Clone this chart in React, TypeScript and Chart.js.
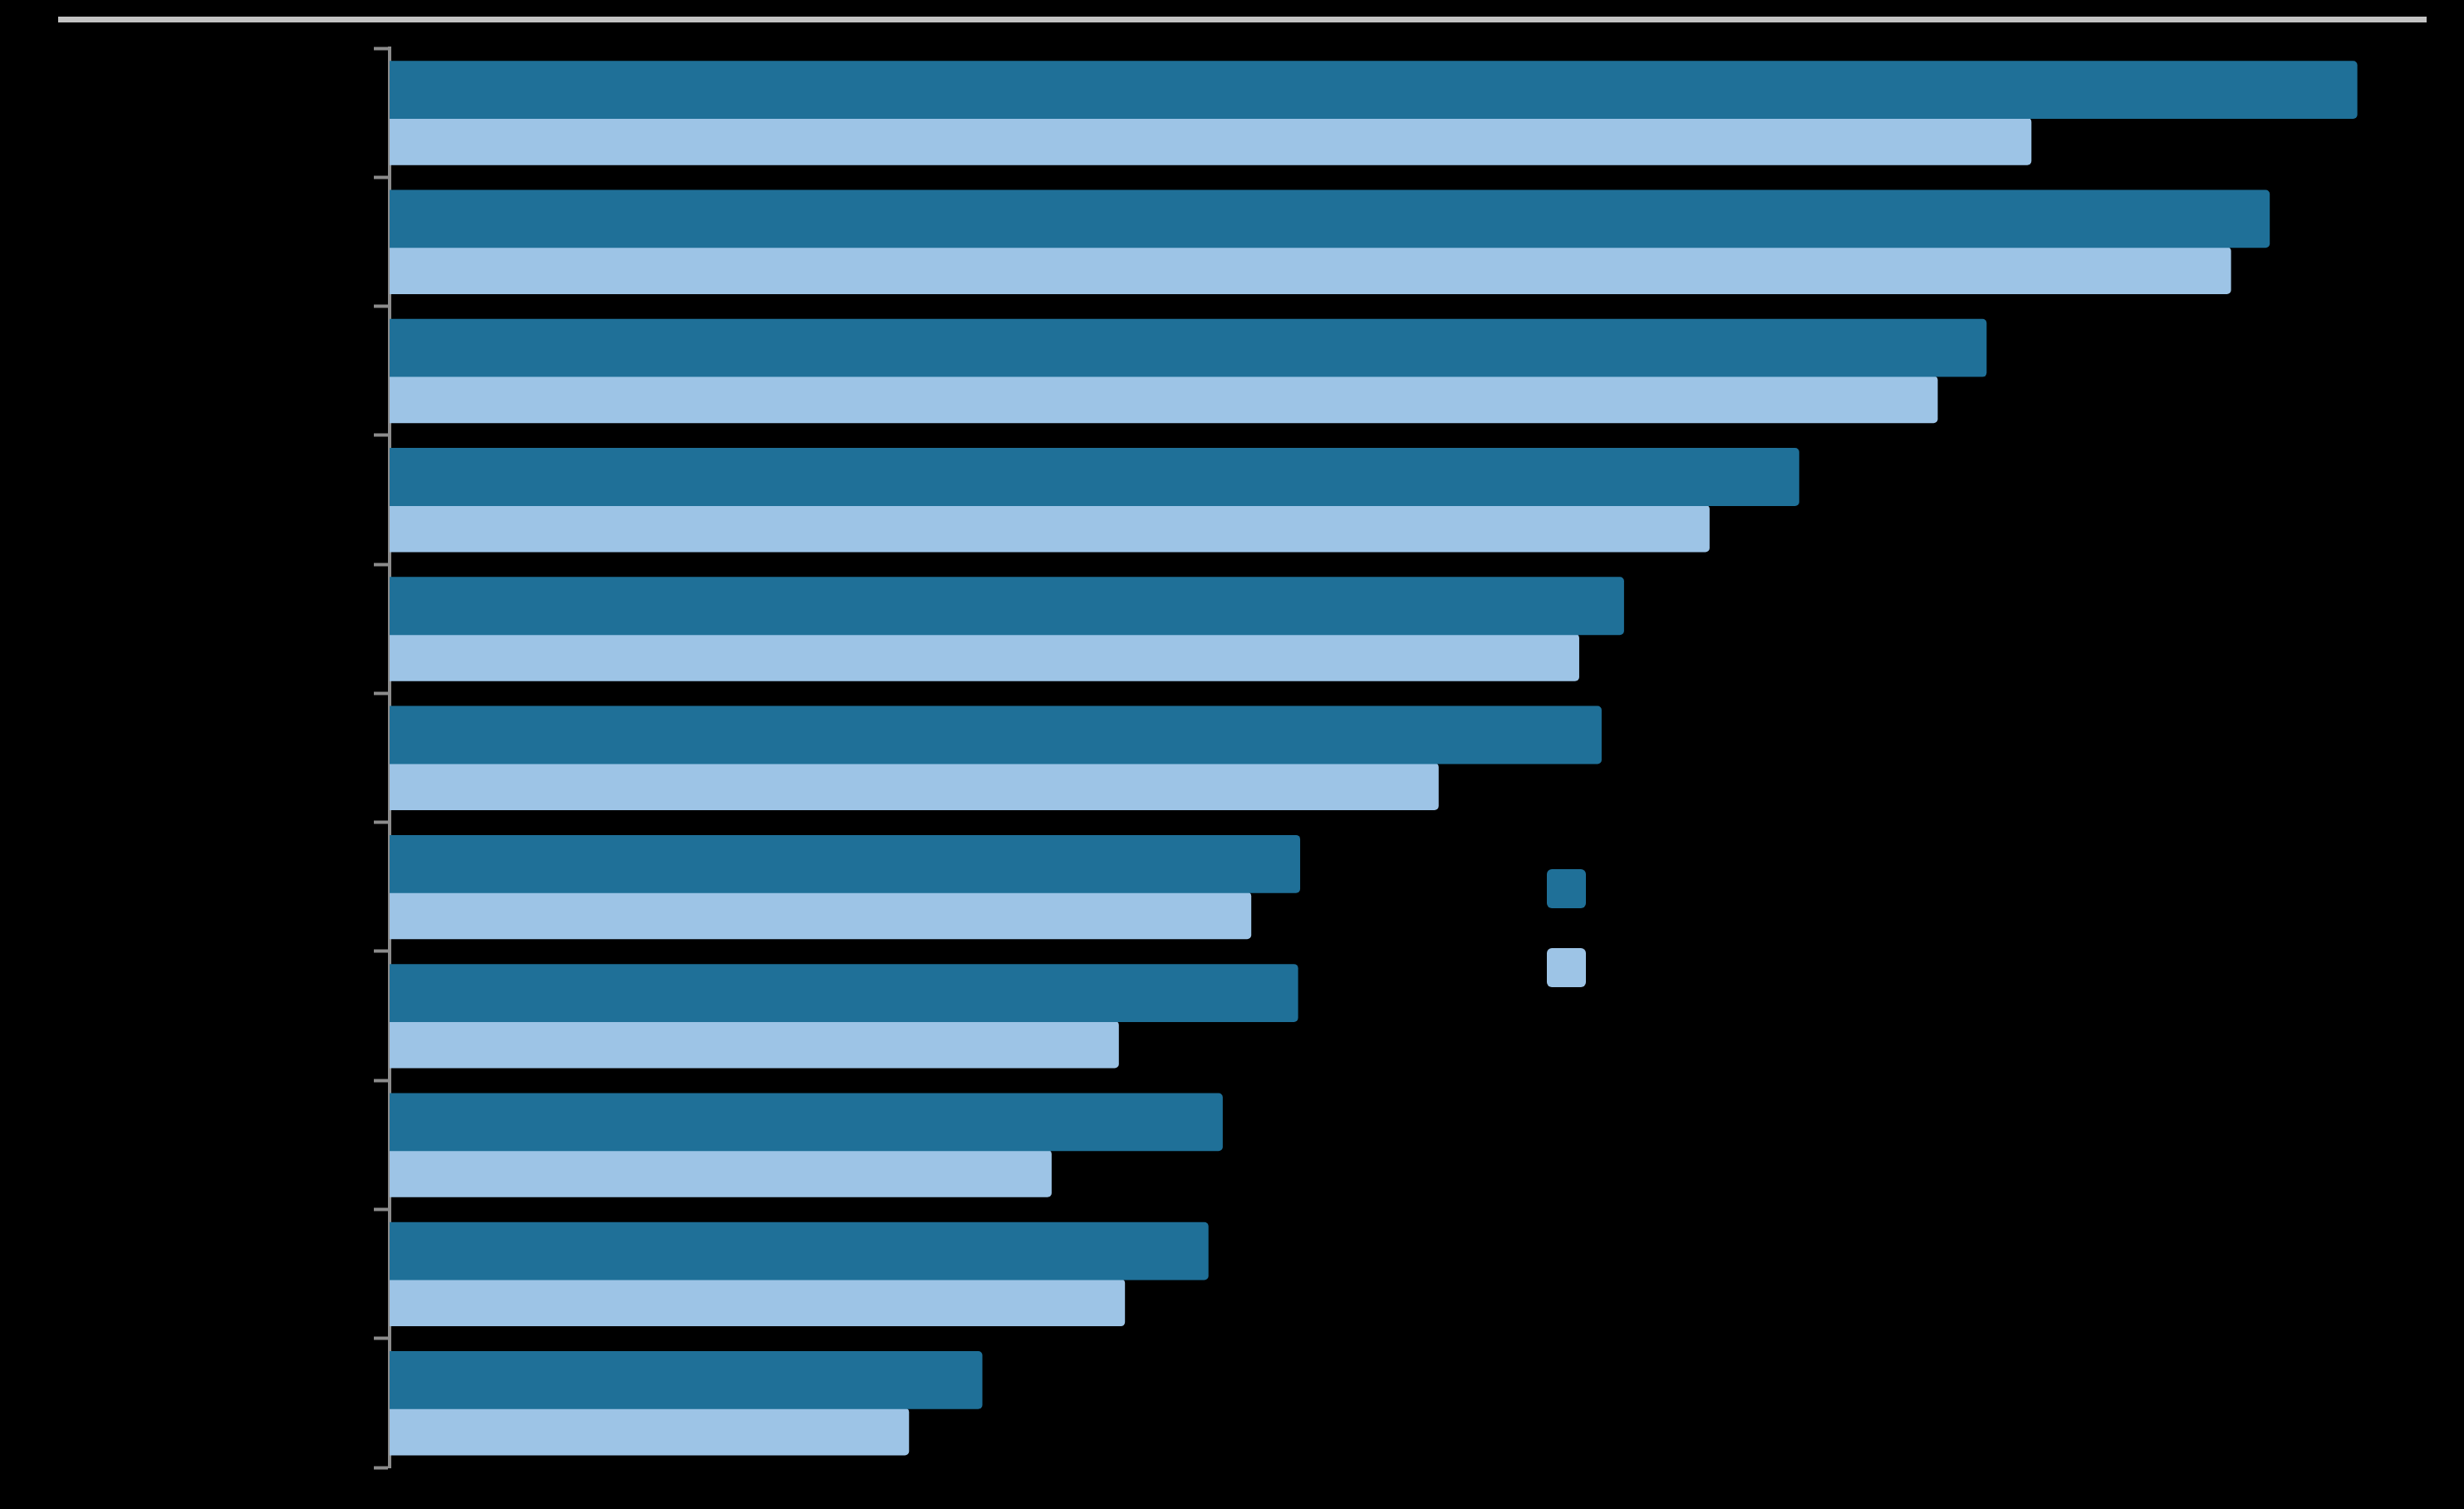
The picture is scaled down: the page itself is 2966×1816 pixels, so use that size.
import React, { useEffect, useRef } from "react";
import { Chart, registerables } from "chart.js";

Chart.register(...registerables);

const categories = [
  "Category 1", "Category 2", "Category 3", "Category 4", "Category 5", "Category 6",
  "Category 7", "Category 8", "Category 9", "Category 10", "Category 11",
];
const seriesNames = ["Series A", "Series B"];
const seriesA = [96.6, 92.3, 78.4, 69.2, 60.6, 59.5, 44.7, 44.6, 40.9, 40.2, 29.1];
const seriesB = [80.6, 90.4, 76.0, 64.8, 58.4, 51.5, 42.3, 35.8, 32.5, 36.1, 25.5];
const colors = ["#1f7098", "#9dc4e6"];

export default function App() {
  const ref = useRef<HTMLCanvasElement | null>(null);
  useEffect(() => {
    document.body.style.margin = "0";
    document.body.style.background = "#000";
    const chart = new Chart(ref.current as HTMLCanvasElement, {
      type: "bar",
      data: {
        labels: categories,
        datasets: [
          {
            label: seriesNames[0],
            data: seriesA,
            backgroundColor: colors[0],
            borderRadius: 5,
            categoryPercentage: 0.708,
            barPercentage: 1.27,
          },
          {
            label: seriesNames[1],
            data: seriesB,
            backgroundColor: colors[1],
            borderRadius: 5,
            categoryPercentage: 0.889,
            barPercentage: 0.826,
          },
        ],
      },
      options: {
        indexAxis: "y",
        animation: false,
        responsive: false,
        maintainAspectRatio: false,
        layout: { padding: { left: 450, top: 58, bottom: 50, right: 45 } },
        plugins: { legend: { display: false }, tooltip: { enabled: false }, title: { display: false } },
        scales: {
          x: { display: false, min: 0, max: 100 },
          y: {
            display: true,
            ticks: { display: false },
            grid: {
              display: true,
              drawOnChartArea: false,
              drawTicks: true,
              tickLength: 19,
              tickColor: "#8c8c8c",
              tickWidth: 4,
              offset: true,
            },
            border: { display: true, color: "#8c8c8c", width: 4 },
          },
        },
      },
    });
    return () => chart.destroy();
  }, []);

  const legendItem = (i: number, top: number) => (
    <div style={{ position: "absolute", left: 1862, top, display: "flex", alignItems: "center" }}>
      <div style={{ width: 47, height: 47, borderRadius: 6, background: colors[i] }} />
      <span style={{ marginLeft: 20, color: "#000", fontFamily: "Arial, 'Liberation Sans', sans-serif", fontSize: 36 }}>
        {seriesNames[i]}
      </span>
    </div>
  );

  return (
    <div style={{ position: "fixed", left: 0, top: 0, width: 2966, height: 1816, background: "#000", overflow: "hidden" }}>
      <div style={{ position: "absolute", left: 70, top: 20, width: 2851, height: 7, background: "#c3c3c3" }} />
      <canvas ref={ref} width={2966} height={1816} style={{ position: "absolute", left: 0, top: 0, width: 2966, height: 1816 }} />
      {legendItem(0, 1046)}
      {legendItem(1, 1141)}
    </div>
  );
}
